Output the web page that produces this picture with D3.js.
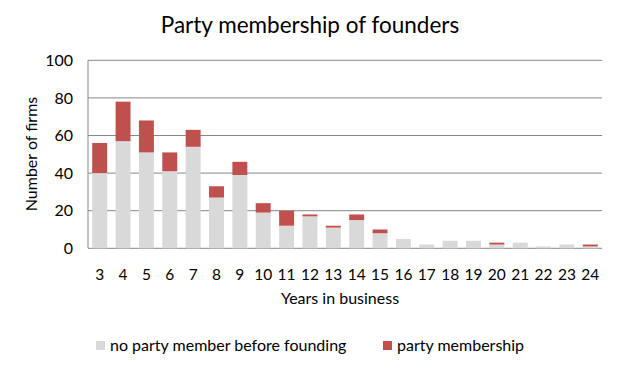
<!DOCTYPE html>
<html><head><meta charset="utf-8">
<script src="https://cdn.jsdelivr.net/npm/d3@7"></script>
<style>body{margin:0;background:#fff;} text{font-family:Lato,"Open Sans",sans-serif;fill:#000;}</style>
</head><body><svg id="c" width="627" height="380"></svg>
<script>
const years = [3,4,5,6,7,8,9,10,11,12,13,14,15,16,17,18,19,20,21,22,23,24];
const noParty = [40,57,51,41,54,27,39,19,12,17,11,15,8,5,2,4,4,2,3,1,2,1];
const party   = [16,21,17,10,9,6,7,5,8,1,1,3,2,0,0,0,0,1,0,0,0,1];
const yTicks = [0,20,40,60,80,100];
const seriesNames = ["no party member before founding","party membership"];
const colors = ["#d9d9d9","#c0504d"];

const svg = d3.select("#c");
const m = {l:88, r:602, t:60.3, b:248.3};
const x = d3.scaleBand().domain(years).range([m.l,m.r]).paddingInner(0.36).paddingOuter(0.18);
const y = d3.scaleLinear().domain([0,100]).range([m.b,m.t]);

svg.append("g").selectAll("line").data(yTicks).join("line")
  .attr("x1",m.l).attr("x2",m.r).attr("y1",d=>y(d)).attr("y2",d=>y(d))
  .attr("stroke","#878787").attr("stroke-width",1);
svg.append("line").attr("x1",m.l).attr("x2",m.l).attr("y1",m.t).attr("y2",m.b).attr("stroke","#878787");

const rows = years.map((yr,i)=>({year:yr, a:noParty[i], b:party[i]}));
const stack = d3.stack().keys(["a","b"])(rows);
svg.append("g").selectAll("g").data(stack).join("g").attr("fill",(d,i)=>colors[i])
  .selectAll("rect").data(d=>d).join("rect")
  .attr("x",d=>x(d.data.year)).attr("width",x.bandwidth())
  .attr("y",d=>y(d[1])).attr("height",d=>y(d[0])-y(d[1]));

svg.append("g").selectAll("text").data(yTicks).join("text")
  .attr("x",73).attr("y",d=>y(d)).attr("dy","0.35em").attr("text-anchor","end")
  .attr("font-size",16).text(d=>d);
svg.append("g").selectAll("text").data(years).join("text")
  .attr("x",d=>x(d)+x.bandwidth()/2).attr("y",275).attr("dy","0.35em").attr("text-anchor","middle")
  .attr("font-size",15.5).text(d=>d);

svg.append("text").attr("x",340).attr("y",298).attr("dy","0.35em").attr("text-anchor","middle")
  .attr("font-size",16).text("Years in business");
svg.append("text").attr("transform","translate(31,154) rotate(-90)").attr("dy","0.35em").attr("text-anchor","middle")
  .attr("font-size",16).text("Number of firms");
svg.append("text").attr("x",310).attr("y",25).attr("dy","0.35em").attr("text-anchor","middle")
  .attr("font-size",22.5).text("Party membership of founders");

const lx = [96,383];
seriesNames.forEach((n,i)=>{
  svg.append("rect").attr("x",lx[i]).attr("y",341).attr("width",9).attr("height",9).attr("fill",colors[i]);
  svg.append("text").attr("x",lx[i]+14).attr("y",345.5).attr("dy","0.35em").attr("font-size",16).text(n);
});
</script></body></html>
